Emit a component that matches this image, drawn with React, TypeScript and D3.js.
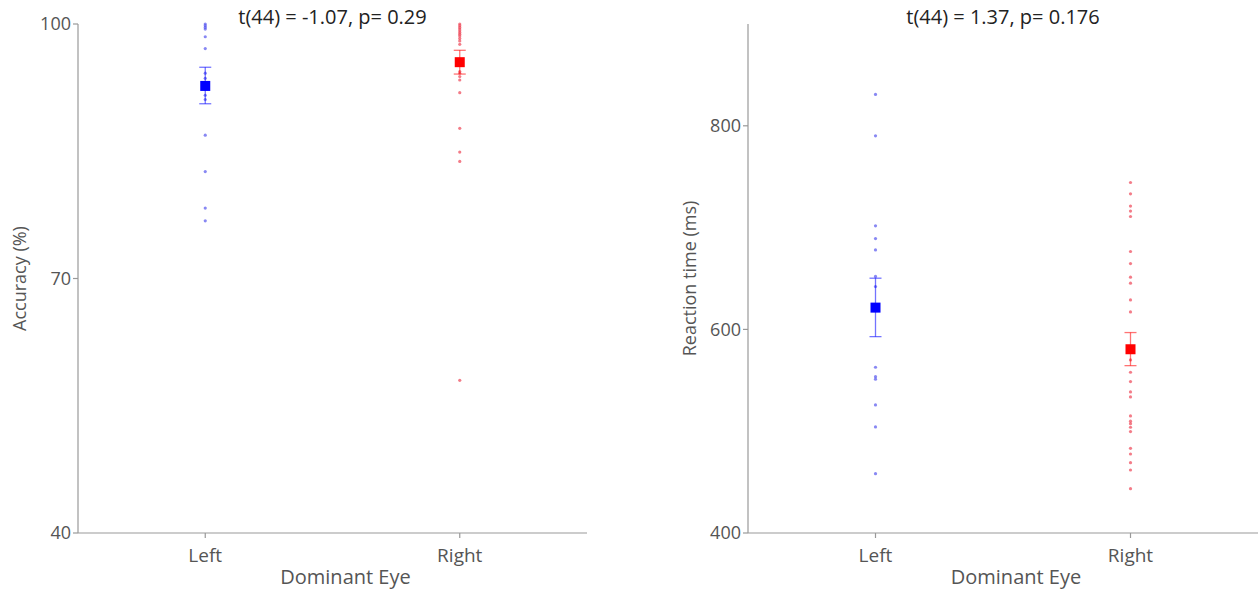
import React from 'react';
import * as d3 from 'd3';

// accuracy (%) per participant, grouped by dominant eye
const accLeft = [100, 99.8, 99.6, 99.4, 98.5, 97.1, 94.2, 93.6, 91.6, 91.1, 86.9, 82.6, 78.3, 76.8];
const accRight = [100, 99.8, 99.6, 99.4, 99.2, 99.0, 98.8, 98.6, 98.3, 98.0, 97.6, 94.4, 94.2, 93.8, 93.4, 91.9, 87.7, 84.9, 83.8, 58.0];
// reaction time (ms)
const rtLeft = [830.8, 790.2, 701.7, 689.2, 678.1, 652.0, 642.1, 562.8, 553.6, 551.1, 525.8, 504.2, 458.3];
const rtRight = [744.3, 733.2, 721.1, 716.2, 710.9, 676.5, 664.7, 651.3, 645.4, 629.0, 617.2, 570.0, 557.9, 548.7, 538.6, 533.7, 515.0, 509.8, 507.4, 503.9, 499.6, 483.2, 477.6, 469.1, 461.9, 443.5];

// group means and error bar bounds [mean, low, high]
const accSummary = [[92.7, 90.6, 94.9], [95.5, 94.1, 96.9]];
const rtSummary = [[621.4, 592.9, 650.3], [580.5, 564.4, 596.9]];

const groups = ['Left', 'Right'];
const accTicks = [40, 70, 100];
const rtTicks = [400, 600, 800];
const titles = ['t(44) = -1.07, p= 0.29', 't(44) = 1.37, p= 0.176'];

const colors = { Left: { main: '#0000ff', dot: '#5555ee' }, Right: { main: '#ff0000', dot: '#ee4455' } };
const font = '"Open Sans", sans-serif';

const Panel = ({ x0, x1, domain, ticks, series, summary, ylabel, title }) => {
  const top = 24, bottom = 533;
  const y = d3.scaleLinear().domain(domain).range([bottom, top]);
  const x = d3.scalePoint().domain(groups).range([x0, x1]).padding(0.5);
  const mid = (x0 + x1) / 2;
  return (
    <g fontFamily={font}>
      <text x={mid} y={24} textAnchor="middle" fontSize={20} fill="#222">{title}</text>
      <line x1={x0} x2={x0} y1={top} y2={bottom} stroke="#999" strokeWidth={1.2} />
      <line x1={x0} x2={x1} y1={bottom} y2={bottom} stroke="#999" strokeWidth={1.2} />
      {ticks.map(t => (
        <g key={t}>
          <line x1={x0 - 5} x2={x0} y1={y(t)} y2={y(t)} stroke="#999" strokeWidth={1.2} />
          <text x={x0 - 7} y={y(t)} dy="0.35em" textAnchor="end" fontSize={18} fill="#555">{t}</text>
        </g>
      ))}
      {groups.map(g => (
        <g key={g}>
          <line x1={x(g)} x2={x(g)} y1={bottom} y2={bottom + 5} stroke="#999" strokeWidth={1.2} />
          <text x={x(g)} y={562} textAnchor="middle" fontSize={19} fill="#555">{g}</text>
        </g>
      ))}
      <text x={mid + 13} y={584} textAnchor="middle" fontSize={20} fill="#555">Dominant Eye</text>
      <text transform={`translate(${x0 - 52},${(top + bottom) / 2}) rotate(-90)`} textAnchor="middle" fontSize={18} fill="#555">{ylabel}</text>
      {groups.map((g, i) => {
        const cx = x(g);
        const [m, lo, hi] = summary[i];
        const c = colors[g];
        return (
          <g key={g}>
            {series[i].map((v, j) => (
              <circle key={j} cx={cx} cy={y(v)} r={1.6} fill={c.dot} opacity={0.7} />
            ))}
            <g stroke={c.main} strokeOpacity={0.55} strokeWidth={1.3}>
              <line x1={cx} x2={cx} y1={y(lo)} y2={y(hi)} />
              <line x1={cx - 6} x2={cx + 6} y1={y(lo)} y2={y(lo)} />
              <line x1={cx - 6} x2={cx + 6} y1={y(hi)} y2={y(hi)} />
            </g>
            <rect x={cx - 5} y={y(m) - 5} width={10} height={10} fill={c.main} />
          </g>
        );
      })}
    </g>
  );
};

export default function App() {
  return (
    <svg width={1259} height={592} style={{ position: 'absolute', left: 0, top: 0 }}>
      <rect width={1259} height={592} fill="#fff" />
      <Panel x0={78} x1={587} domain={[40, 100]} ticks={accTicks} series={[accLeft, accRight]}
        summary={accSummary} ylabel="Accuracy (%)" title={titles[0]} />
      <Panel x0={748} x1={1258} domain={[400, 900]} ticks={rtTicks} series={[rtLeft, rtRight]}
        summary={rtSummary} ylabel="Reaction time (ms)" title={titles[1]} />
    </svg>
  );
}
